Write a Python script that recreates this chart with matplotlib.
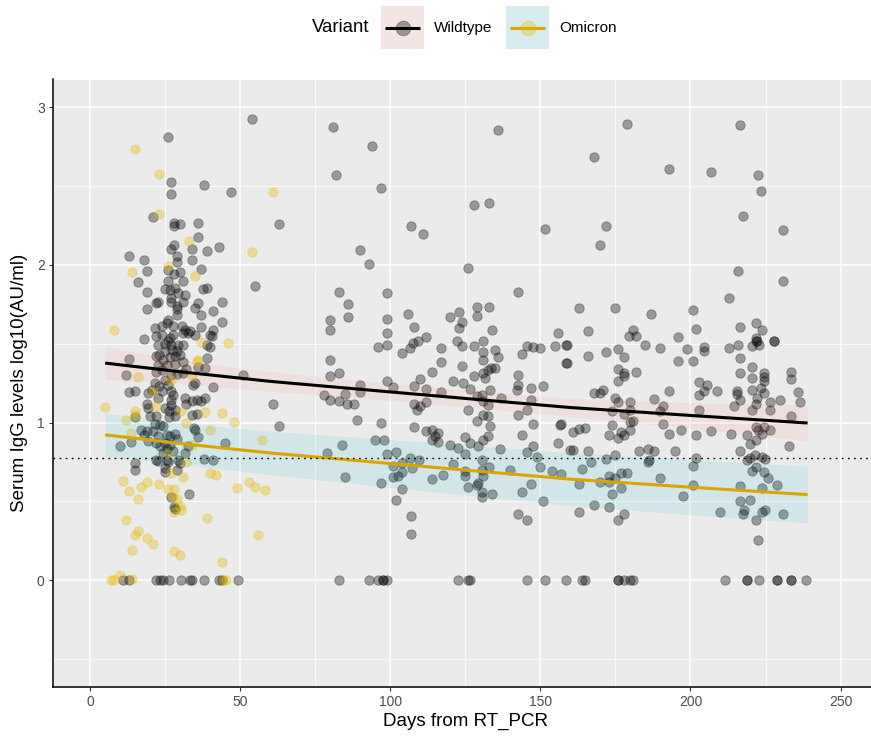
import numpy as np
import matplotlib
matplotlib.use("Agg")
import matplotlib.pyplot as plt
from matplotlib.patches import Rectangle
from matplotlib.lines import Line2D

plt.rcParams['font.family'] = ['Liberation Sans', 'DejaVu Sans']

# ---- data ----
# Wildtype (gray points)
wt_x = [
    53.9, 26.0, 27.0, 38.0, 47.0, 27.0, 21.0, 28.0, 29.9, 28.0, 36.0, 36.0, 28.0, 27.0, 34.0, 43.0,
    38.9, 13.0, 18.0, 29.1, 29.1, 34.0, 19.0, 26.0, 28.1, 29.9, 36.9, 16.0, 26.0, 31.0, 54.9, 37.5,
    19.0, 24.9, 26.6, 28.2, 27.1, 26.9, 29.3, 31.6, 38.8, 22.1, 22.7, 19.0, 31.0, 29.1, 28.8, 36.0,
    34.9, 41.0, 44.0, 37.1, 28.8, 26.0, 25.5, 44.0, 21.6, 23.8, 27.7, 30.5, 31.6, 33.2, 37.1, 41.0,
    39.9, 40.5, 18.0, 21.8, 23.8, 26.6, 26.0, 27.7, 31.0, 32.7, 34.9, 22.7, 24.9, 27.1, 29.3, 31.0,
    38.8, 39.9, 21.8, 22.9, 24.9, 27.3, 28.8, 29.9, 28.2, 26.6, 24.3, 39.1, 13.1, 22.7, 25.5, 28.2,
    31.0, 32.1, 36.0, 38.2, 21.9, 23.8, 12.1, 26.9, 29.1, 31.0, 34.9, 34.4, 51.0, 21.6, 22.9, 20.7,
    24.9, 26.0, 26.9, 27.7, 41.0, 12.9, 15.1, 19.4, 23.8, 22.7, 31.6, 33.8, 35.5, 37.1, 38.2, 26.9,
    27.1, 18.8, 19.4, 24.9, 26.2, 28.2, 32.1,
    19.9, 22.1, 26.2, 28.2, 33.8, 35.5, 23.2, 21.6, 24.3, 17.1, 18.8, 15.1, 13.6, 10.1, 21.0, 18.0,
    19.4, 22.7, 22.1, 23.2, 25.5, 26.6, 28.2, 28.8, 24.9, 26.6, 25.5, 24.3, 27.7, 31.6, 32.7, 34.7,
    34.9, 36.0, 44.9, 22.1, 22.7, 25.5, 26.0, 29.3, 29.9, 24.9, 25.1, 28.8, 15.1, 15.1, 38.0, 41.0,
    33.0, 27.1, 28.0, 28.2,
    # 60 - 160 days
    81.0, 93.9, 82.0, 96.9, 135.8, 63.0, 127.8, 132.8, 106.9, 110.8, 151.7, 89.8, 92.9, 125.8, 82.9,
    98.8, 142.7, 85.9, 79.9, 85.8, 79.9, 98.8, 98.8, 105.9, 107.8, 122.8, 119.8, 128.8, 132.8, 123.8,
    128.8, 122.9, 133.8, 111.8, 155.7,
    95.8, 98.8, 103.8, 106.6, 107.7, 109.3, 116.8, 122.1, 123.8, 127.9, 130.8, 131.0, 134.9, 136.0,
    143.8, 145.6, 147.7, 149.9, 154.9, 158.6, 158.6, 131.0, 79.9, 116.8, 79.9, 82.9, 113.8, 120.8,
    123.8, 124.1, 127.9, 131.0, 132.7, 133.6, 131.6, 134.9, 142.7, 142.7, 142.1, 150.8, 146.9, 89.9,
    89.9, 98.8, 100.8, 107.9, 109.9, 111.9, 116.8, 126.6, 128.8, 130.5, 133.2, 136.8, 146.9, 77.9,
    79.9, 82.9, 84.9, 85.5, 88.0, 107.9, 108.8, 109.9, 111.9, 131.0, 132.7, 125.8, 128.8, 131.0,
    132.7, 142.7, 145.7, 61.0, 88.8, 96.9, 107.9, 111.9, 113.8, 114.9, 116.0, 113.8, 116.0, 124.9,
    126.6, 129.3, 131.0, 132.7, 133.2, 136.6, 143.8, 147.7, 147.7, 156.8, 155.7, 159.7, 63.0, 94.9,
    97.9, 83.9, 119.9, 122.7, 124.9, 79.0, 98.8, 101.9, 106.6, 109.7, 103.8, 101.0, 107.1, 103.8,
    102.7, 100.8, 84.9, 96.9, 113.8, 117.7, 120.8, 124.9, 124.9, 130.7, 132.9, 130.7, 139.9, 145.7,
    148.8, 149.9, 153.8, 156.8, 131.0, 129.3, 128.8, 125.8, 130.7, 133.8, 130.7, 143.8, 146.9, 150.8,
    103.9, 101.9, 106.9, 106.9, 142.7, 145.7,
    # 160 - 240 days
    178.8, 216.6, 167.7, 192.7, 206.7, 222.6, 223.6, 217.6, 171.8, 169.7, 230.7, 215.7, 230.7, 212.7,
    162.8, 174.7, 186.7, 200.7, 165.8, 180.8, 179.6, 181.8, 195.7, 201.7, 216.6, 221.7, 223.7, 227.7,
    221.7, 221.9, 222.8,
    158.8, 175.7, 177.7, 184.8, 189.7, 195.7, 198.7, 200.7, 204.6, 204.6, 212.7, 215.7, 216.6, 220.5,
    222.1, 227.7, 165.8, 171.8, 158.8, 220.5, 216.6, 220.6, 224.6, 224.6, 224.6, 233.6, 233.6, 175.7,
    175.7, 177.7, 177.7, 181.7, 167.7, 169.7, 170.8, 174.7, 175.7, 179.7, 192.7, 202.7, 205.6, 202.7,
    204.6, 208.7, 215.6, 215.6, 216.6, 214.6, 220.6, 222.1, 223.6, 224.6, 226.6, 229.7, 235.7, 236.6,
    233.6, 173.7, 177.7, 179.7, 187.8, 189.7, 190.7, 202.7, 220.6, 221.7, 226.6, 156.6, 160.7, 162.7,
    164.8, 173.7, 176.7, 177.7, 179.7, 179.7, 180.7, 172.7, 175.7, 190.7, 192.7, 196.7, 201.7, 206.7,
    213.6, 218.7, 219.7, 221.7, 221.7, 222.6, 226.6, 224.6, 223.7, 232.7, 160.7, 165.8, 174.7, 182.7,
    185.7, 187.7, 194.7, 201.7, 200.7, 216.6, 219.7, 221.6, 223.7, 224.7, 218.7, 221.7, 220.6, 224.6,
    225.7, 228.7, 223.7, 216.6, 166.8, 163.7, 172.7, 174.7, 176.7, 178.7, 171.8, 185.8, 186.3, 162.7,
    169.7, 172.7, 173.8, 176.7, 189.7, 200.7, 197.6, 216.6, 219.7, 217.7, 217.6, 223.7, 224.7, 221.7,
    222.6, 230.7, 209.7, 167.7, 172.7, 177.7, 175.7, 162.8,
    # zeros
    11.0, 12.9, 22.1, 23.2, 24.3, 26.2, 30.2, 33.2, 34.0, 38.0, 42.9, 43.8, 49.1, 82.9, 92.8, 95.8,
    97.7, 97.7, 98.8, 122.7, 125.8, 126.6, 145.7, 151.7, 158.6, 163.7, 164.7, 175.7, 175.7, 177.7,
    179.7, 180.7, 211.6, 218.7, 218.7, 222.7, 228.7, 228.7, 233.6, 233.6, 238.6,
]
wt_y = [
    2.925, 2.809, 2.526, 2.505, 2.464, 2.448, 2.300, 2.264, 2.260, 2.243, 2.268, 2.179, 2.125, 2.099,
    2.099, 2.112, 2.085, 2.059, 2.032, 2.057, 2.015, 2.032, 1.962, 1.964, 1.943, 1.956, 1.973, 1.892,
    1.895, 1.899, 1.863, 1.845,
    1.827, 1.848, 1.841, 1.852, 1.789, 1.767, 1.820, 1.810, 1.852, 1.757, 1.767, 1.721, 1.767, 1.736,
    1.721, 1.757, 1.725, 1.708, 1.767, 1.683, 1.679, 1.651, 1.630, 1.637, 1.599, 1.609, 1.609, 1.609,
    1.588, 1.578, 1.603, 1.588, 1.556, 1.546, 1.531, 1.546, 1.556, 1.535, 1.518, 1.556, 1.567, 1.567,
    1.556, 1.493, 1.497, 1.493, 1.489, 1.489, 1.489, 1.482, 1.419, 1.430, 1.455, 1.459, 1.451, 1.425,
    1.419, 1.413, 1.398, 1.409, 1.400, 1.366, 1.366, 1.371, 1.383, 1.341, 1.354, 1.345, 1.320, 1.335,
    1.303, 1.303, 1.307, 1.314, 1.250, 1.240, 1.299, 1.250, 1.229, 1.208, 1.271, 1.240, 1.202, 1.176,
    1.225, 1.193, 1.202, 1.187, 1.197, 1.155, 1.155, 1.134, 1.145, 1.134, 1.155, 1.145, 1.113, 1.117,
    1.092, 1.092, 1.071, 1.081, 1.117,
    1.040, 1.044, 1.036, 1.040, 1.050, 1.057, 0.987, 0.993, 0.976, 0.955, 0.945, 1.036, 0.875, 0.854,
    0.945, 0.924, 0.882, 0.913, 0.871, 0.850, 0.924, 0.913, 0.930, 0.896, 0.871, 0.860, 0.829, 0.808,
    0.818, 0.808, 0.854, 0.966, 0.955, 0.909, 0.871, 0.761, 0.755, 0.765, 0.748, 0.761, 0.744, 0.713,
    0.685, 0.702, 0.744, 0.698, 0.770, 0.765, 0.544, 0.529, 0.466, 0.449,
    2.872, 2.754, 2.570, 2.486, 2.857, 2.258, 2.378, 2.391, 2.247, 2.196, 2.230, 2.093, 2.004, 1.977,
    1.825, 1.821, 1.827, 1.749, 1.647, 1.669, 1.586, 1.654, 1.565, 1.688, 1.605, 1.702, 1.671, 1.730,
    1.730, 1.639, 1.677, 1.599, 1.586, 1.544, 1.565,
    1.479, 1.491, 1.440, 1.472, 1.504, 1.514, 1.472, 1.514, 1.487, 1.487, 1.514, 1.445, 1.462, 1.415,
    1.432, 1.483, 1.479, 1.472, 1.487, 1.491, 1.377, 1.394, 1.396, 1.384, 1.297, 1.312, 1.322, 1.263,
    1.360, 1.250, 1.293, 1.314, 1.331, 1.346, 1.282, 1.346, 1.301, 1.240, 1.208, 1.234, 1.219, 1.236,
    1.194, 1.263, 1.223, 1.229, 1.276, 1.213, 1.194, 1.213, 1.166, 1.177, 1.208, 1.156, 1.145, 1.177,
    1.145, 1.139, 1.183, 1.120, 1.120, 1.120, 1.082, 1.103, 1.128, 1.134, 1.113, 1.077, 1.008, 1.050,
    1.040, 1.050, 1.077, 1.120, 1.016, 0.997, 0.972, 0.947, 0.955, 0.913, 0.934, 0.887, 0.875, 0.909,
    0.871, 0.854, 0.892, 0.913, 0.980, 0.833, 0.919, 0.991, 0.854, 0.991, 0.871, 0.828, 0.976, 0.890,
    0.892, 0.860, 0.858, 0.839, 0.801, 0.807, 0.801, 0.814, 0.776, 0.765, 0.744, 0.727, 0.712, 0.685,
    0.664, 0.653, 0.653, 0.617, 0.643, 0.670, 0.740, 0.695, 0.664, 0.761, 0.716, 0.702, 0.702, 0.814,
    0.782, 0.719, 0.695, 0.676, 0.660, 0.617, 0.607, 0.590, 0.558, 0.545, 0.529, 0.562, 0.613, 0.501,
    0.579, 0.508, 0.410, 0.296, 0.417, 0.379,
    2.891, 2.885, 2.686, 2.606, 2.591, 2.568, 2.469, 2.308, 2.247, 2.127, 2.222, 1.960, 1.897, 1.791,
    1.726, 1.728, 1.690, 1.713, 1.578, 1.588, 1.550, 1.546, 1.540, 1.593, 1.603, 1.633, 1.584, 1.519,
    1.536, 1.520, 1.493,
    1.493, 1.466, 1.415, 1.489, 1.472, 1.388, 1.468, 1.390, 1.479, 1.451, 1.472, 1.493, 1.409, 1.483,
    1.514, 1.514, 1.419, 1.445, 1.377, 1.352, 1.314, 1.282, 1.314, 1.289, 1.261, 1.318, 1.278, 1.339,
    1.265, 1.314, 1.293, 1.318, 1.187, 1.187, 1.204, 1.156, 1.130, 1.132, 1.202, 1.255, 1.240, 1.177,
    1.202, 1.200, 1.198, 1.181, 1.145, 1.107, 1.208, 1.156, 1.219, 1.187, 1.130, 1.145, 1.191, 1.130,
    1.040, 1.073, 1.056, 1.082, 1.149, 1.071, 1.103, 1.077, 1.077, 1.120, 1.082, 0.987, 0.942, 0.959,
    0.968, 0.987, 0.942, 0.923, 1.001, 0.955, 1.008, 0.923, 0.900, 0.991, 0.930, 0.953, 0.919, 0.947,
    0.928, 0.919, 0.866, 0.887, 0.970, 0.955, 0.955, 0.972, 0.930, 0.849, 0.828, 0.822, 0.792, 0.818,
    0.835, 0.818, 0.818, 0.776, 0.727, 0.818, 0.776, 0.797, 0.782, 0.769, 0.765, 0.719, 0.691, 0.685,
    0.647, 0.605, 0.586, 0.596, 0.748, 0.708, 0.664, 0.647, 0.681, 0.681, 0.771, 0.748, 0.765, 0.613,
    0.624, 0.621, 0.548, 0.584, 0.647, 0.607, 0.533, 0.503, 0.507, 0.444, 0.423, 0.432, 0.448, 0.381,
    0.256, 0.417, 0.434, 0.480, 0.463, 0.417, 0.381, 0.434,
    0, 0, 0, 0, 0, 0, 0, 0, 0, 0, 0, 0, 0, 0, 0, 0,
    0, 0, 0, 0, 0, 0, 0, 0, 0, 0, 0, 0, 0, 0,
    0, 0, 0, 0, 0, 0, 0, 0, 0, 0, 0,
]

# Omicron (yellow points)
om_x = [
    15.1, 23.0, 23.0, 33.1, 61.0, 53.9, 26.0, 14.0, 35.0,
    8.0, 36.9, 46.0, 35.5, 36.0, 16.0, 34.0, 26.9, 21.0, 5.1, 15.1, 22.1, 30.2, 38.2, 43.8,
    12.1, 14.9, 13.6, 32.1, 48.0, 39.9, 33.8, 26.0, 32.1, 27.1, 31.0, 39.9, 42.1, 11.0, 13.0, 17.1,
    19.0, 23.0, 16.0, 26.0, 28.0, 27.7, 29.1, 29.9, 30.2, 28.0, 11.9, 16.0, 14.9, 19.0, 21.0, 14.1,
    28.0, 30.1, 39.0, 44.0, 52.9, 54.9, 49.0, 58.2, 56.0, 57.4, 9.9, 7.1, 8.0, 14.1, 44.4, 45.1,
]
om_y = [
    2.737, 2.578, 2.321, 2.154, 2.464, 2.082, 1.994, 1.952, 1.930,
    1.588, 1.510, 1.504, 1.387, 1.398, 1.288, 1.292, 1.269, 1.197, 1.096, 1.071, 1.102, 1.071, 1.067,
    1.062,
    1.019, 1.050, 0.934, 0.997, 1.006, 0.951, 0.860, 0.803, 0.748, 0.681, 0.653, 0.681, 0.666, 0.628,
    0.565, 0.592, 0.624, 0.609, 0.516, 0.580, 0.580, 0.529, 0.516, 0.470, 0.444, 0.432, 0.385, 0.311,
    0.284, 0.269, 0.227, 0.191, 0.183, 0.162, 0.396, 0.115, 0.622, 0.592, 0.582, 0.571, 0.286, 0.892,
    0.032, 0, 0, 0.011, 0, 0,
]

# fitted curves and confidence bands
fit_x = [5, 30, 60, 100, 160, 200, 239]
wt_fit = [1.377, 1.322, 1.261, 1.194, 1.095, 1.045, 0.997]
wt_lo = [1.273, 1.247, 1.199, 1.141, 1.038, 0.965, 0.883]
wt_hi = [1.481, 1.397, 1.323, 1.247, 1.152, 1.125, 1.111]
om_fit = [0.922, 0.867, 0.807, 0.740, 0.641, 0.590, 0.543]
om_lo = [0.785, 0.737, 0.669, 0.588, 0.473, 0.415, 0.363]
om_hi = [1.059, 0.997, 0.945, 0.892, 0.809, 0.765, 0.723]

cutoff = 0.778  # log10(6)

variants = ['Wildtype', 'Omicron']
point_col = {'Wildtype': '#000000', 'Omicron': '#E7B800'}
line_col = {'Wildtype': '#000000', 'Omicron': '#D9A600'}
band_col = {'Wildtype': '#F8766D', 'Omicron': '#00BFC4'}

W, H = 871, 736
fig = plt.figure(figsize=(W / 100, H / 100), dpi=100)
fig.patch.set_facecolor('white')


def fx(px):
    return px / W


def fy(py):
    return 1 - py / H


ax = fig.add_axes([fx(52.6), fy(686.7), fx(878.1) - fx(52.6), fy(79.5) - fy(686.7)])
ax.set_facecolor('#EBEBEB')

ax.scatter(wt_x, wt_y, s=46, color=point_col['Wildtype'], alpha=0.35,
           edgecolors=point_col['Wildtype'], linewidths=0.6, zorder=2)
ax.scatter(om_x, om_y, s=46, color=point_col['Omicron'], alpha=0.35,
           edgecolors=point_col['Omicron'], linewidths=0.6, zorder=2)

ax.fill_between(fit_x, wt_lo, wt_hi, color=band_col['Wildtype'], alpha=0.1, lw=0, zorder=3)
ax.fill_between(fit_x, om_lo, om_hi, color=band_col['Omicron'], alpha=0.1, lw=0, zorder=3)
ax.plot(fit_x, wt_fit, color=line_col['Wildtype'], lw=2.2, zorder=4, solid_capstyle='butt')
ax.plot(fit_x, om_fit, color=line_col['Omicron'], lw=2.2, zorder=4, solid_capstyle='butt')

ax.axhline(cutoff, color='black', lw=1.0, ls=(0, (1.2, 3.2)), zorder=5)

ax.set_xlim(-12.5, 262.5)
ax.set_ylim(-0.675, 3.175)
ax.set_xticks([0, 50, 100, 150, 200, 250])
ax.set_xticks([25, 75, 125, 175, 225], minor=True)
ax.set_yticks([0, 1, 2, 3])
ax.set_yticks([-0.5, 0.5, 1.5, 2.5], minor=True)
ax.grid(which='major', color='white', lw=1.1, zorder=0)
ax.grid(which='minor', color='white', lw=0.55, zorder=0)
ax.set_axisbelow(True)
ax.tick_params(which='major', direction='out', length=3.2, width=0.8, color='#333333',
               labelcolor='#4D4D4D', labelsize=10, pad=2.5)
ax.tick_params(which='minor', length=0)
for s in ['top', 'right']:
    ax.spines[s].set_visible(False)
for s in ['left', 'bottom']:
    ax.spines[s].set_color('black')
    ax.spines[s].set_linewidth(1.1)

ax.set_xlabel('Days from RT_PCR', fontsize=13.5, labelpad=3)
ax.set_ylabel('Serum IgG levels log10(AU/ml)', fontsize=13.5, labelpad=6)

# ---- legend (top) ----
fig.text(fx(311.7), fy(28), 'Variant', fontsize=13.4, va='center', ha='left')
key_left = {'Wildtype': 380.7, 'Omicron': 505.7}
label_left = {'Wildtype': 434.0, 'Omicron': 559.0}
for v in variants:
    x0 = key_left[v]
    fig.add_artist(Rectangle((fx(x0), fy(49)), fx(43.6), 43 / H, transform=fig.transFigure,
                             facecolor='#F2F2F2', edgecolor='none'))
    fig.add_artist(Rectangle((fx(x0), fy(49)), fx(43.6), 43 / H, transform=fig.transFigure,
                             facecolor=band_col[v], alpha=0.1, edgecolor='none'))
    fig.add_artist(Line2D([fx(x0 + 4.5), fx(x0 + 39)], [fy(27.5), fy(27.5)], transform=fig.transFigure,
                          color=line_col[v], lw=2.2, solid_capstyle='butt'))
    fig.add_artist(Line2D([fx(x0 + 21.8)], [fy(27.5)], transform=fig.transFigure, ls='none',
                          marker='o', markersize=10.5, color=point_col[v], alpha=0.35,
                          markeredgecolor=point_col[v], markeredgewidth=0.6))
    fig.text(fx(label_left[v]), fy(28), v, fontsize=11, va='center', ha='left')

fig.savefig('out.png', dpi=100)
